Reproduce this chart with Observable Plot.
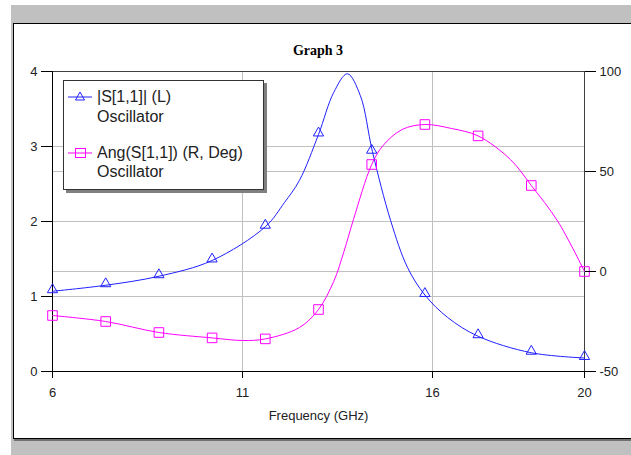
<!DOCTYPE html>
<html><head><meta charset="utf-8">
<script src="https://cdn.jsdelivr.net/npm/d3@7"></script>
<script src="https://cdn.jsdelivr.net/npm/@observablehq/plot@0.6"></script>
<style>
html,body{margin:0;padding:0;background:#fff;}
body{width:631px;height:455px;overflow:hidden;position:relative;font-family:Arial,"Liberation Sans",sans-serif;}
#frame{position:absolute;left:11px;top:5px;width:620px;height:450px;background:#c0c0c0;}
#panel{position:absolute;left:13px;top:23px;width:640px;height:414px;background:#fff;border:1px solid #000;box-shadow:1px 2px 0 #707070;}
#title{position:absolute;left:0;width:636px;top:43px;text-align:center;font:bold 14px "Liberation Serif","Times New Roman",serif;color:#000;}
#chart{position:absolute;left:0;top:0;}
#legend{position:absolute;left:63px;top:80px;width:199px;height:108px;background:#fff;border:1px solid #333;box-shadow:3px 3px 0 #808080;}
.lt{position:absolute;left:33px;font:16px Arial,"Liberation Sans",sans-serif;color:#222;line-height:18px;white-space:nowrap;}
.sw{position:absolute;left:4px;}
</style>
</head><body>
<div id="frame"></div>
<div id="panel"></div>
<div id="chart"></div>
<div id="title">Graph 3</div>
<div id="legend">
  <svg class="sw" style="top:9px" width="26" height="14"><line x1="0" y1="7" x2="24" y2="7" stroke="#2020ff"/><path d="M12,2 L16.5,10 L7.5,10 Z" fill="none" stroke="#2020ff"/></svg>
  <div class="lt" style="top:7px">|S[1,1]| (L)</div>
  <div class="lt" style="top:27px">Oscillator</div>
  <svg class="sw" style="top:65px" width="26" height="14"><line x1="0" y1="7" x2="24" y2="7" stroke="#ff00ff"/><rect x="7.5" y="2.5" width="10" height="9" fill="none" stroke="#ff00ff"/></svg>
  <div class="lt" style="top:63px">Ang(S[1,1]) (R, Deg)</div>
  <div class="lt" style="top:82px">Oscillator</div>
</div>
<script>
// Marker positions (GHz) and values
const markerFreq = [6, 7.4, 8.8, 10.2, 11.6, 13.0, 14.4, 15.8, 17.2, 18.6, 20];
const magMarkers = [1.07, 1.15, 1.27, 1.48, 1.93, 3.16, 2.93, 1.02, 0.47, 0.25, 0.18];
const angMarkers = [-22, -25, -30.5, -33.2, -33.7, -19, 53.5, 73.5, 67.8, 43, 0];
// Curve samples
const magCurveFreq = [6, 7.4, 8.8, 10.2, 11.6, 12.1, 12.5, 13.0, 13.4, 13.76, 14.1, 14.42, 14.9, 15.34, 15.8, 16.4, 17.2, 18.6, 20];
const magCurveVal  = [1.07, 1.15, 1.27, 1.48, 1.93, 2.25, 2.55, 3.16, 3.72, 3.97, 3.68, 2.93, 2.01, 1.39, 1.02, 0.72, 0.47, 0.25, 0.18];
const angCurveFreq = [6, 7.4, 8.8, 10.2, 11, 11.6, 12.5, 13.0, 13.4, 13.67, 13.92, 14.4, 14.7, 15.2, 15.8, 16.5, 17.2, 18.05, 18.6, 19.3, 20];
const angCurveVal  = [-22, -25, -30.5, -33.2, -34.5, -33.7, -28, -19, -5, 10, 26, 53.5, 63, 71, 73.5, 71.5, 67.8, 56, 43, 25, 0];
// Axes
const xTicks = [6, 11, 16, 20];
const leftTicks = [0, 1, 2, 3, 4];
const rightTicks = [-50, 0, 50, 100];
const xLabel = "Frequency (GHz)";

const BLUE = "#2020ff", MAG = "#ff00ff", GRID = "#c0c0c0";
const toLeft = d => (d + 50) * 4 / 150;
const fromLeft = v => v * 150 / 4 - 50;

const magLine = magCurveFreq.map((f, i) => ({f, v: magCurveVal[i]}));
const angLine = angCurveFreq.map((f, i) => ({f, v: toLeft(angCurveVal[i])}));
const magPts = markerFreq.map((f, i) => ({f, v: magMarkers[i]}));
const angPts = markerFreq.map((f, i) => ({f, v: toLeft(angMarkers[i])}));

const chart = Plot.plot({
  width: 631, height: 455,
  marginLeft: 52, marginRight: 47, marginTop: 71, marginBottom: 84,
  style: {background: "transparent", fontSize: "13px", fontFamily: "Arial, 'Liberation Sans', sans-serif", color: "#222"},
  x: {domain: [6, 20]},
  y: {domain: [0, 4]},
  marks: [
    Plot.ruleY([1, 2, 3], {stroke: GRID}),
    Plot.ruleY([0, 50].map(toLeft), {stroke: GRID}),
    Plot.ruleX([11, 16], {stroke: GRID}),
    Plot.ruleY([4], {stroke: "#404040"}),
    Plot.ruleX([20], {stroke: "#404040"}),
    Plot.ruleY([0], {stroke: "#000"}),
    Plot.ruleX([6], {stroke: "#000"}),
    Plot.line(angLine, {x: "f", y: "v", stroke: MAG, strokeWidth: 1, curve: "catmull-rom"}),
    Plot.line(magLine, {x: "f", y: "v", stroke: BLUE, strokeWidth: 1, curve: "catmull-rom"}),
    Plot.dot(angPts, {x: "f", y: "v", symbol: "square", r: 5.4, stroke: MAG, fill: "none", strokeWidth: 1}),
    Plot.dot(magPts, {x: "f", y: "v", symbol: "triangle", r: 3.8, dy: -1.5, stroke: BLUE, fill: "none", strokeWidth: 1}),
    Plot.axisY({ticks: leftTicks, anchor: "left", tickSize: 11, tickPadding: 4, label: null, stroke: "#000", tickFormat: v => String(v)}),
    Plot.axisY({ticks: rightTicks.map(toLeft), anchor: "right", tickSize: 11, tickPadding: 4, label: null, stroke: "#000", tickFormat: v => String(Math.round(fromLeft(v)))}),
    Plot.axisX({ticks: xTicks, anchor: "bottom", tickSize: 7, tickPadding: 9, label: xLabel, labelAnchor: "center", labelArrow: "none", labelOffset: 48, stroke: "#000", tickFormat: v => String(v)})
  ]
});
document.getElementById("chart").appendChild(chart);
</script>
</body></html>
